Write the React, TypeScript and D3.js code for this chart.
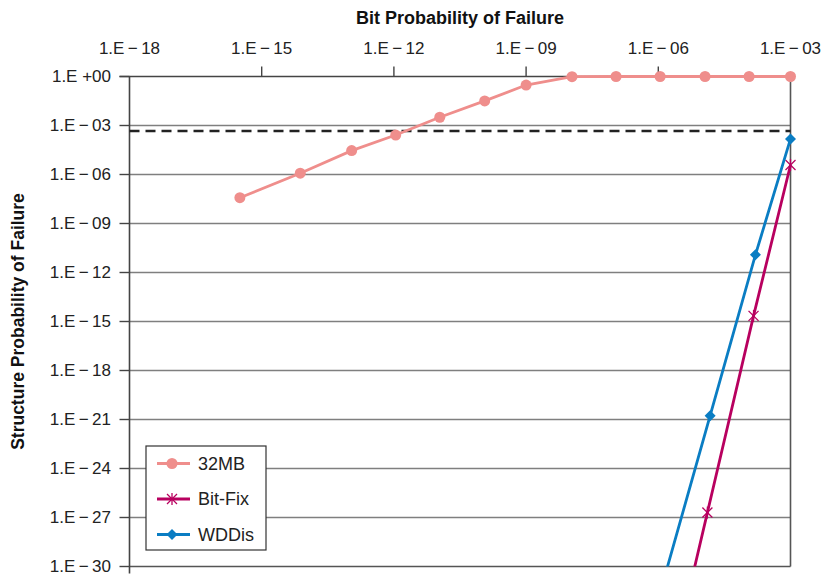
import React from "react";
import * as d3 from "d3";

const xTickValues = [1e-18, 1e-15, 1e-12, 1e-9, 1e-6, 1e-3];
const xTickLabels = ["1.E\u2009\u2212\u200918", "1.E\u2009\u2212\u200915", "1.E\u2009\u2212\u200912", "1.E\u2009\u2212\u200909", "1.E\u2009\u2212\u200906", "1.E\u2009\u2212\u200903"];
const yTickValues = [1, 1e-3, 1e-6, 1e-9, 1e-12, 1e-15, 1e-18, 1e-21, 1e-24, 1e-27, 1e-30];
const yTickLabels = ["1.E +00", "1.E\u2009\u2212\u200903", "1.E\u2009\u2212\u200906", "1.E\u2009\u2212\u200909", "1.E\u2009\u2212\u200912", "1.E\u2009\u2212\u200915", "1.E\u2009\u2212\u200918", "1.E\u2009\u2212\u200921", "1.E\u2009\u2212\u200924", "1.E\u2009\u2212\u200927", "1.E\u2009\u2212\u200930"];

const mb32X = [3.2e-16, 7.5e-15, 1.1e-13, 1.1e-12, 1.1e-11, 1.15e-10, 1e-9, 1.1e-8, 1.1e-7, 1.1e-6, 1.15e-5, 1.15e-4, 1e-3];
const mb32Y = [3.8e-8, 1.2e-6, 2.9e-5, 2.6e-4, 3.2e-3, 0.032, 0.3, 0.97, 1, 1, 1, 1, 1];

const bitFixX = [1e-3, 1.45e-4, 1.3e-5, 1.3e-6];
const bitFixY = [3.8e-6, 2.2e-15, 2e-27, 6e-39];

const wddisX = [1e-3, 1.6e-4, 1.5e-5, 1.5e-6];
const wddisY = [1.5e-4, 1.2e-11, 1.7e-21, 4.8e-31];

const thresholdY = 4.6e-4;

const seriesNames = ["32MB", "Bit-Fix", "WDDis"];
const seriesColors = ["#EF8E8C", "#B8005F", "#0A7DC3"];

const FONT = "'Liberation Sans', Arial, Helvetica, sans-serif";

export default function App() {
  const W = 834, H = 575;
  const x = d3.scaleLog().domain([1e-18, 1e-3]).range([129.5, 790.5]);
  const y = d3.scaleLog().domain([1, 1e-30]).range([76.5, 566.5]);
  const line = d3.line<[number, number]>().x((d) => x(d[0])).y((d) => y(d[1]));

  const mb = mb32X.map((v, i) => [v, mb32Y[i]] as [number, number]);
  const bf = bitFixX.map((v, i) => [v, bitFixY[i]] as [number, number]);
  const wd = wddisX.map((v, i) => [v, wddisY[i]] as [number, number]);

  const [x0, x1] = x.range();
  const [yTop, yBot] = y.range();

  const star = (cx: number, cy: number, color: string, key: any) => {
    const r = 5;
    return (
      <g key={key} stroke={color} strokeWidth={1.3}>
        <line x1={cx - r} y1={cy - r} x2={cx + r} y2={cy + r} />
        <line x1={cx - r} y1={cy + r} x2={cx + r} y2={cy - r} />
        <line x1={cx} y1={cy - r - 1} x2={cx} y2={cy + r + 1} />
      </g>
    );
  };
  const diamond = (cx: number, cy: number, color: string, key: any) => (
    <path key={key} d={`M${cx},${cy - 5.5}L${cx + 5.5},${cy}L${cx},${cy + 5.5}L${cx - 5.5},${cy}Z`} fill={color} />
  );

  return (
    <svg width={W} height={H} style={{ position: "absolute", left: 0, top: 0, background: "#fff" }} fontFamily={FONT}>
      <defs>
        <clipPath id="plotClip">
          <rect x={x0 - 10} y={0} width={x1 - x0 + 20} height={yBot} />
        </clipPath>
      </defs>
      <rect width={W} height={H} fill="#fff" />
      {yTickValues.slice(1, -1).map((v, i) => (
        <line key={i} x1={x0} x2={x1} y1={y(v)} y2={y(v)} stroke="#7f7f7f" strokeWidth={1.6} />
      ))}
      <line x1={x0} x2={x1} y1={yBot} y2={yBot} stroke="#555" strokeWidth={1.6} />
      <line x1={x1} x2={x1} y1={yTop} y2={yBot} stroke="#555" strokeWidth={1.6} />
      <line x1={x0 - 10} x2={x1} y1={yTop} y2={yTop} stroke="#444" strokeWidth={1.6} />
      {xTickValues.slice(1, -1).map((v, i) => (
        <line key={i} x1={x(v)} x2={x(v)} y1={yTop} y2={yTop - 10} stroke="#444" strokeWidth={1.4} />
      ))}
      {xTickValues.map((v, i) => (
        <text key={i} x={x(v)} y={54} textAnchor="middle" fontSize={17} fill="#222">
          {xTickLabels[i]}
        </text>
      ))}
      <line x1={x0} x2={x0} y1={yTop} y2={yBot + 7} stroke="#444" strokeWidth={1.6} />
      {yTickValues.map((v, i) => (
        <g key={i}>
          <line x1={x0 - 10} x2={x0} y1={y(v)} y2={y(v)} stroke="#444" strokeWidth={1.4} />
          <text x={111} y={y(v)} dy="0.35em" textAnchor="end" fontSize={17} fill="#222">
            {yTickLabels[i]}
          </text>
        </g>
      ))}
      <line x1={x0} x2={x1} y1={y(thresholdY)} y2={y(thresholdY)} stroke="#222" strokeWidth={2.6} strokeDasharray="10,6" />
      <g clipPath="url(#plotClip)">
        <path d={line(mb) || ""} fill="none" stroke={seriesColors[0]} strokeWidth={2.8} />
        {mb.map((d, i) => (
          <circle key={i} cx={x(d[0])} cy={y(d[1])} r={5.5} fill={seriesColors[0]} />
        ))}
        <path d={line(bf) || ""} fill="none" stroke={seriesColors[1]} strokeWidth={2.8} />
        {bf.map((d, i) => star(x(d[0]), y(d[1]), seriesColors[1], i))}
        <path d={line(wd) || ""} fill="none" stroke={seriesColors[2]} strokeWidth={2.8} />
        {wd.map((d, i) => diamond(x(d[0]), y(d[1]), seriesColors[2], i))}
      </g>
      <text x={460} y={24} textAnchor="middle" fontSize={18} fontWeight="bold" fill="#111">
        Bit Probability of Failure
      </text>
      <text transform={`translate(24,${(yTop + yBot) / 2}) rotate(-90)`} textAnchor="middle" fontSize={17.5} fontWeight="bold" fill="#111">
        Structure Probability of Failure
      </text>
      <g>
        <rect x={146} y={446} width={120} height={104} fill="#fff" stroke="#333" strokeWidth={1.2} />
        {seriesNames.map((n, i) => {
          const ly = 463.5 + i * 35.5;
          const c = seriesColors[i];
          return (
            <g key={n}>
              <line x1={157} x2={190} y1={ly} y2={ly} stroke={c} strokeWidth={2.8} />
              {i === 0 && <circle cx={172} cy={ly} r={5.5} fill={c} />}
              {i === 1 && star(172, ly, c, "s")}
              {i === 2 && diamond(172, ly, c, "d")}
              <text x={198} y={ly} dy="0.36em" fontSize={18} fill="#222">
                {n}
              </text>
            </g>
          );
        })}
      </g>
    </svg>
  );
}
